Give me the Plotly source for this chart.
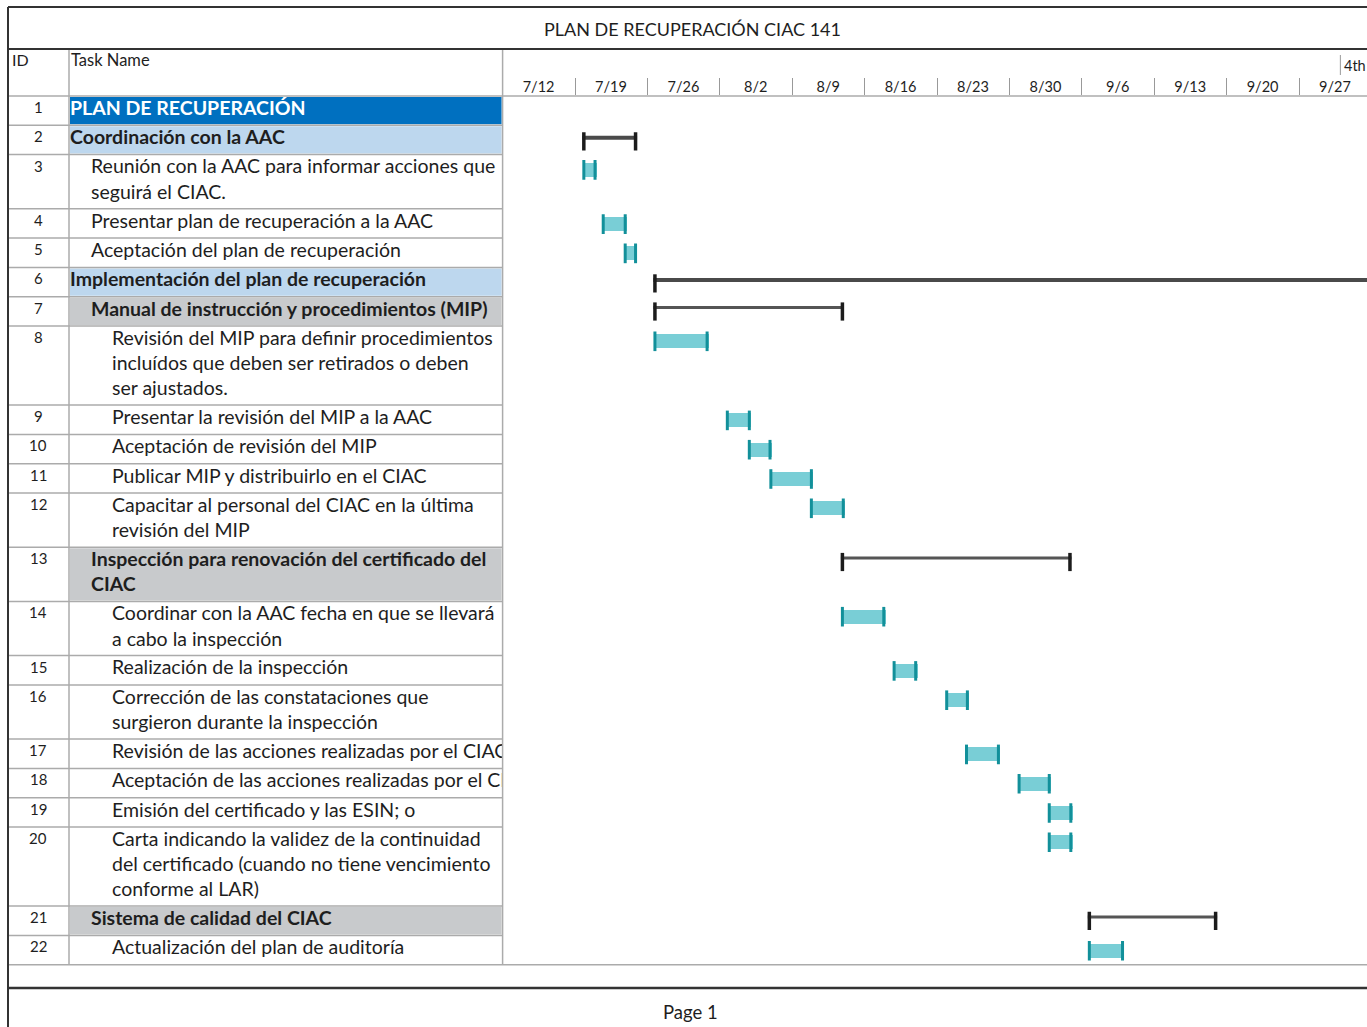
import plotly.graph_objects as go
import pandas as pd

# ---------------- data ----------------
title_text = "PLAN DE RECUPERACIÓN CIAC 141"
task_ids = list(range(1, 23))
task_names = [
    "PLAN DE RECUPERACIÓN",
    "Coordinación con la AAC",
    "Reunión con la AAC para informar acciones que\nseguirá el CIAC.",
    "Presentar plan de recuperación a la AAC",
    "Aceptación del plan de recuperación",
    "Implementación del plan de recuperación",
    "Manual de instrucción y procedimientos (MIP)",
    "Revisión del MIP para definir procedimientos\nincluídos que deben ser retirados o deben\nser ajustados.",
    "Presentar la revisión del MIP a la AAC",
    "Aceptación de revisión del MIP",
    "Publicar MIP y distribuirlo en el CIAC",
    "Capacitar al personal del CIAC en la última\nrevisión del MIP",
    "Inspección para renovación del certificado del\nCIAC",
    "Coordinar con la AAC fecha en que se llevará\na cabo la inspección",
    "Realización de la inspección",
    "Corrección de las constataciones que\nsurgieron durante la inspección",
    "Revisión de las acciones realizadas por el CIAC",
    "Aceptación de las acciones realizadas por el CIAC",
    "Emisión del certificado y las ESIN; o",
    "Carta indicando la validez de la continuidad\ndel certificado (cuando no tiene vencimiento\nconforme al LAR)",
    "Sistema de calidad del CIAC",
    "Actualización del plan de auditoría",
]
outline_level = [0, 0, 1, 1, 1, 0, 1, 2, 2, 2, 2, 2, 1, 2, 2, 2, 2, 2, 2, 2, 1, 2]
row_kind = ["project", "phase", "task", "task", "task", "phase", "group", "task", "task", "task",
            "task", "task", "group", "task", "task", "task", "task", "task", "task", "task",
            "group", "task"]
task_start = [None, "2020-07-19 17:00", "2020-07-19 17:00", "2020-07-21 14:00", "2020-07-23 17:00",
              "2020-07-26 14:00", "2020-07-26 14:00", "2020-07-26 14:00", "2020-08-02 14:00",
              "2020-08-04 17:00", "2020-08-06 19:00", "2020-08-10 17:00", "2020-08-13 17:00",
              "2020-08-13 17:00", "2020-08-18 17:00", "2020-08-23 19:00", "2020-08-25 17:00",
              "2020-08-30 19:00", "2020-09-02 17:00", "2020-09-02 17:00", "2020-09-06 14:00",
              "2020-09-06 14:00"]
task_end = [None, "2020-07-25 00:00", "2020-07-21 02:00", "2020-07-24 00:00", "2020-07-25 00:00",
            "2020-10-30 00:00", "2020-08-14 00:00", "2020-07-31 22:00", "2020-08-05 00:00",
            "2020-08-07 00:00", "2020-08-11 00:00", "2020-08-14 02:00", "2020-09-05 00:00",
            "2020-08-18 00:00", "2020-08-21 02:00", "2020-08-26 02:00", "2020-08-29 02:00",
            "2020-09-03 00:00", "2020-09-05 02:00", "2020-09-05 02:00", "2020-09-19 02:00",
            "2020-09-10 02:00"]
week_starts = ["2020-07-12", "2020-07-19", "2020-07-26", "2020-08-02", "2020-08-09", "2020-08-16",
               "2020-08-23", "2020-08-30", "2020-09-06", "2020-09-13", "2020-09-20", "2020-09-27"]
week_labels = ["7/12", "7/19", "7/26", "8/2", "8/9", "8/16", "8/23", "8/30", "9/6", "9/13",
               "9/20", "9/27"]
timescale_start = "2020-07-12"
quarter_label = "4th Quarter"
quarter_start = "2020-10-01"
footer_text = "Page 1"

# ---------------- layout constants ----------------
W, H = 1367, 1027
FONT = "Lato"
TXT = "#1e1e1e"
X_ID_COL, X_NAME, X_CHART = 8, 69, 502.6
Y_TOP, Y_TITLE_LINE, Y_HDR = 7, 49, 96
ROW_H, LINE_H = 29.3, 24.9
PX_PER_DAY = 72.4 / 7
NAME_SIZE = 19.5

def pxx(x):
    return x / W

def pxy(y):
    return 1 - y / H

# row geometry
n_lines = [len(n.split("\n")) for n in task_names]
row_top = []
y = Y_HDR
for nl in n_lines:
    row_top.append(y)
    y += ROW_H + LINE_H * (nl - 1)
Y_TABLE_END = y

fig = go.Figure()

# ---------------- table fills & rules ----------------
fill_col = {"project": "#0070C0", "phase": "#BDD7EE", "group": "#C8CACC"}
shapes = []
for i, k in enumerate(row_kind):
    if k in fill_col:
        bot = row_top[i + 1] if i + 1 < len(row_top) else Y_TABLE_END
        shapes.append(dict(type="rect", xref="paper", yref="paper", layer="below",
                           x0=pxx(X_NAME + 1), x1=pxx(X_CHART - 1), y0=pxy(row_top[i] + 1), y1=pxy(bot - 1),
                           fillcolor=fill_col[k], line=dict(width=0)))

def hline(y, x0, x1, color, w):
    shapes.append(dict(type="line", xref="paper", yref="paper", x0=pxx(x0), x1=pxx(x1),
                       y0=pxy(y), y1=pxy(y), line=dict(color=color, width=w)))

def vline(x, y0, y1, color, w):
    shapes.append(dict(type="line", xref="paper", yref="paper", x0=pxx(x), x1=pxx(x),
                       y0=pxy(y0), y1=pxy(y1), line=dict(color=color, width=w)))

GRID = "#ABABAB"
for t in row_top[1:]:
    hline(t, X_ID_COL, X_CHART, GRID, 1.5)
hline(Y_TABLE_END, X_ID_COL, W, GRID, 1.5)
hline(Y_HDR, X_ID_COL, W, GRID, 1.5)
vline(X_NAME, Y_TITLE_LINE, Y_TABLE_END, GRID, 1.5)
vline(X_CHART, Y_TITLE_LINE, Y_TABLE_END, GRID, 1.5)
hline(Y_TOP, X_ID_COL, W, "#333333", 2)
hline(Y_TITLE_LINE, X_ID_COL, W, "#333333", 2)
hline(988, X_ID_COL, W, "#333333", 2.5)
vline(X_ID_COL, Y_TOP, H, "#333333", 2)
# quarter tier separator
shapes.append(dict(type="line", xref="x", yref="paper", x0=quarter_start, x1=quarter_start,
                   y0=pxy(75), y1=pxy(55), line=dict(color="#999999", width=1)))

# ---------------- task names (clipped at the column edge) ----------------
for bold, color, kinds in [(True, "#FFFFFF", ["project"]), (True, TXT, ["phase", "group"]),
                           (False, TXT, ["task"])]:
    xs, ys, ts = [], [], []
    for i, name in enumerate(task_names):
        if row_kind[i] not in kinds:
            continue
        for j, line in enumerate(name.split("\n")):
            xs.append(X_NAME + 1 + 21 * outline_level[i])
            ys.append(row_top[i] + 14 + 25.3 * j)
            ts.append(f"<b>{line}</b>" if bold else line)
    fig.add_trace(go.Scatter(x=xs, y=ys, text=ts, mode="text", textposition="middle right",
                             textfont=dict(family=FONT, size=NAME_SIZE, color=color),
                             cliponaxis=True, hoverinfo="skip", xaxis="x2", yaxis="y2"))

# ---------------- Gantt bars ----------------
starts = pd.to_datetime(pd.Series(task_start))
ends = pd.to_datetime(pd.Series(task_end))
cap = pd.Timedelta(days=1.5 / PX_PER_DAY)
tasks = [i for i, k in enumerate(row_kind) if k == "task" and task_start[i]]
summ = [i for i, k in enumerate(row_kind) if k in ("phase", "group") and task_start[i]]

fig.add_trace(go.Bar(
    orientation="h",
    base=[starts[i] for i in tasks],
    x=[(ends[i] - starts[i]).total_seconds() * 1000 for i in tasks],
    y=[row_top[i] + 15.3 for i in tasks],
    width=14, marker=dict(color="#79CED6", line=dict(width=0)), hoverinfo="skip"))
cx, cy = [], []
for i in tasks:
    cx += [starts[i] + cap, ends[i] - cap]
    cy += [row_top[i] + 15.3] * 2
fig.add_trace(go.Scatter(x=cx, y=cy, mode="markers", hoverinfo="skip",
                         marker=dict(symbol="line-ns", size=14, line=dict(width=3, color="#12909A"))))

for i in summ:
    big = row_kind[i] == "phase"
    fig.add_trace(go.Scatter(x=[starts[i], ends[i]], y=[row_top[i] + (12.5 if big else 10.8)] * 2,
                             mode="lines", hoverinfo="skip",
                             line=dict(color="#4A4A4A" if big else "#555555", width=4 if big else 3)))
    fig.add_trace(go.Scatter(x=[starts[i] + cap, ends[i] - cap], y=[row_top[i] + (16 if big else 14.8)] * 2,
                             mode="markers", hoverinfo="skip",
                             marker=dict(symbol="line-ns", size=13,
                                         line=dict(width=3.5, color="#1C1C1C"))))

# ---------------- annotations ----------------
ann = []
for i, tid in enumerate(task_ids):
    ann.append(dict(x=pxx(38), y=pxy(row_top[i] + 11), xref="paper", yref="paper", text=str(tid),
                    showarrow=False, xanchor="center", yanchor="middle",
                    font=dict(family=FONT, size=15, color=TXT)))
ann.append(dict(x=pxx(692), y=pxy(29), xref="paper", yref="paper", text=title_text, showarrow=False,
                xanchor="center", yanchor="middle", font=dict(family=FONT, size=18, color=TXT)))
ann.append(dict(x=pxx(10), y=pxy(60), xref="paper", yref="paper", text="ID", showarrow=False,
                xanchor="left", yanchor="middle", font=dict(family=FONT, size=16, color=TXT)))
ann.append(dict(x=pxx(69), y=pxy(60), xref="paper", yref="paper", text="Task Name", showarrow=False,
                xanchor="left", yanchor="middle", font=dict(family=FONT, size=16.5, color=TXT)))
ann.append(dict(x=quarter_start, y=pxy(65), xref="x", yref="paper", text=quarter_label, showarrow=False,
                xanchor="left", yanchor="middle", xshift=2, font=dict(family=FONT, size=14.5, color=TXT)))
ann.append(dict(x=pxx(690), y=pxy(1012), xref="paper", yref="paper", text=footer_text, showarrow=False,
                xanchor="center", yanchor="middle", font=dict(family=FONT, size=18.5, color=TXT)))

range_end = pd.Timestamp(timescale_start) + pd.Timedelta(days=(W - X_CHART) / PX_PER_DAY)
ydom = [pxy(Y_TABLE_END), pxy(Y_HDR)]

fig.update_layout(
    width=W, height=H, margin=dict(l=0, r=0, t=0, b=0),
    paper_bgcolor="white", plot_bgcolor="rgba(0,0,0,0)", showlegend=False,
    shapes=shapes, annotations=ann, bargap=0,
    xaxis=dict(type="date", domain=[pxx(X_CHART), 1], range=[timescale_start, range_end],
               side="top", anchor="y", showgrid=False, zeroline=False, showline=False,
               tickmode="array", tickvals=week_starts, ticktext=week_labels,
               ticks="outside", ticklen=17, tickwidth=1, tickcolor="#999999",
               ticklabelshift=int(round(3.5 * PX_PER_DAY)), ticklabelstandoff=-20,
               tickfont=dict(family=FONT, size=14.5, color=TXT), fixedrange=True),
    yaxis=dict(domain=ydom, range=[Y_TABLE_END, Y_HDR], visible=False, anchor="x", fixedrange=True),
    xaxis2=dict(domain=[pxx(X_NAME), pxx(X_CHART)], range=[X_NAME, X_CHART], visible=False,
                anchor="y2", fixedrange=True),
    yaxis2=dict(domain=ydom, range=[Y_TABLE_END, Y_HDR], visible=False, anchor="x2", fixedrange=True),
)

fig.write_html("out.html", config={"displayModeBar": False},
               post_script="document.body.style.margin='0';document.body.style.overflow='hidden';")
